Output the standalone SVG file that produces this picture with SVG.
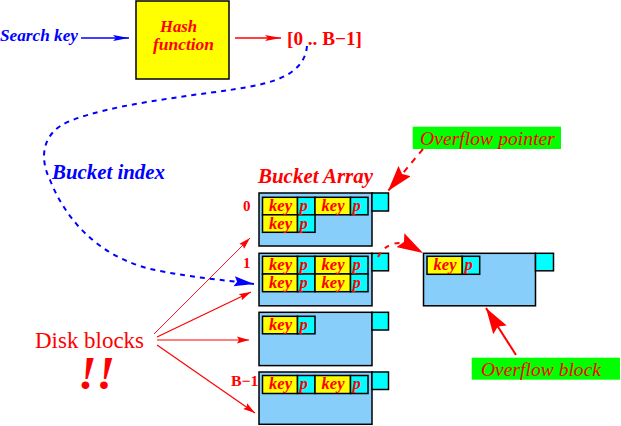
<svg xmlns="http://www.w3.org/2000/svg" width="621" height="426" viewBox="0 0 621 426">
<style>
.t{font-family:"Liberation Serif","Times New Roman",serif}
.bi{font-weight:bold;font-style:italic}
.red{fill:#ff0000}
.blue{fill:#0000ff}
.blk{fill:#87cefa;stroke:#000;stroke-width:1.5}
.sq{fill:#00ffff;stroke:#000;stroke-width:1.5}
.key{fill:#ffff00;stroke:#000;stroke-width:1.5}
.pc{fill:#00ffff;stroke:#000;stroke-width:1.5}
.kt{font-family:"Liberation Serif",serif;font-weight:bold;font-style:italic;font-size:16.5px;fill:#ff0000}
.lbl{fill:#00ff00}
</style>
<defs>
<marker id="ab" markerWidth="16" markerHeight="8" refX="16" refY="4" orient="auto" markerUnits="userSpaceOnUse"><path d="M0,1 L16,4 L0,7 L3,4 Z" fill="#0000ff"/></marker>
<marker id="ar" markerWidth="16" markerHeight="8" refX="16" refY="4" orient="auto" markerUnits="userSpaceOnUse"><path d="M0,1 L16,4 L0,7 L3,4 Z" fill="#ff0000"/></marker>
<marker id="ars" markerWidth="12" markerHeight="8" refX="12" refY="4" orient="auto" markerUnits="userSpaceOnUse"><path d="M0,0.5 L12,4 L0,7.5 L2,4 Z" fill="#ff0000"/></marker>
<marker id="arb" markerWidth="26" markerHeight="16" refX="26" refY="8" orient="auto" markerUnits="userSpaceOnUse"><path d="M0,0 L26,8 L0,16 L4,8 Z" fill="#ff0000"/></marker>
<marker id="abb" markerWidth="20" markerHeight="12" refX="20" refY="6" orient="auto" markerUnits="userSpaceOnUse"><path d="M0,1 L20,6 L0,11 L3,6 Z" fill="#0000ff"/></marker>
</defs>

<g id="search-key">
<text class="t bi blue" x="0" y="41" font-size="17" textLength="78" lengthAdjust="spacingAndGlyphs">Search key</text>
</g>
<g id="hash-function">
<rect x="136" y="1" width="93" height="78" fill="#ffff00" stroke="#000" stroke-width="1.5"/>
<text class="t bi red" x="160" y="31.5" font-size="16" textLength="37" lengthAdjust="spacingAndGlyphs">Hash</text>
<text class="t bi red" x="153" y="49.5" font-size="16" textLength="61" lengthAdjust="spacingAndGlyphs">function</text>
</g>
<g id="range">
<text class="t red" x="287" y="45" font-size="19" font-weight="bold" textLength="75" lengthAdjust="spacingAndGlyphs">[0 .. B−1]</text>
</g>
<g id="bucket-index-label">
<text class="t bi blue" x="52" y="179" font-size="20" textLength="113" lengthAdjust="spacingAndGlyphs">Bucket index</text>
</g>
<g id="bucket-array-label">
<text class="t bi red" x="258" y="183" font-size="20" textLength="115" lengthAdjust="spacingAndGlyphs">Bucket Array</text>
</g>
<g id="indices">
<text class="t red" x="243" y="211" font-size="15" font-weight="bold">0</text>
<text class="t red" x="243" y="268" font-size="15" font-weight="bold">1</text>
<text class="t red" x="231" y="385.5" font-size="15" font-weight="bold" textLength="27.5" lengthAdjust="spacingAndGlyphs">B−1</text>
</g>

<g id="bucket-0">
<rect class="blk" x="259" y="193" width="113" height="53"/>
<rect class="sq" x="372" y="193" width="16.5" height="18"/>
<rect class="key" x="262.5" y="197.3" width="35" height="17.5"/><rect class="pc" x="297.5" y="197.3" width="17.5" height="17.5"/>
<rect class="key" x="315" y="197.3" width="35.5" height="17.5"/><rect class="pc" x="350.5" y="197.3" width="17.5" height="17.5"/>
<rect class="key" x="262.5" y="214.8" width="35" height="17.5"/><rect class="pc" x="297.5" y="214.8" width="17.5" height="17.5"/>
<text class="kt" x="269" y="211" textLength="23" lengthAdjust="spacingAndGlyphs">key</text><text class="kt" x="299.5" y="211">p</text>
<text class="kt" x="321.5" y="211" textLength="23" lengthAdjust="spacingAndGlyphs">key</text><text class="kt" x="352.5" y="211">p</text>
<text class="kt" x="269" y="229" textLength="23" lengthAdjust="spacingAndGlyphs">key</text><text class="kt" x="299.5" y="229">p</text>
</g>
<g id="bucket-1">
<rect class="blk" x="259" y="253.3" width="113" height="52.5"/>
<rect class="sq" x="372" y="253.3" width="16.5" height="17.5"/>
<rect class="key" x="262.5" y="256.3" width="35" height="17.7"/><rect class="pc" x="297.5" y="256.3" width="17.5" height="17.7"/>
<rect class="key" x="315" y="256.3" width="35.5" height="17.7"/><rect class="pc" x="350.5" y="256.3" width="17.5" height="17.7"/>
<rect class="key" x="262.5" y="274" width="35" height="17.7"/><rect class="pc" x="297.5" y="274" width="17.5" height="17.7"/>
<rect class="key" x="315" y="274" width="35.5" height="17.7"/><rect class="pc" x="350.5" y="274" width="17.5" height="17.7"/>
<text class="kt" x="269" y="270" textLength="23" lengthAdjust="spacingAndGlyphs">key</text><text class="kt" x="299.5" y="270">p</text>
<text class="kt" x="321.5" y="270" textLength="23" lengthAdjust="spacingAndGlyphs">key</text><text class="kt" x="352.5" y="270">p</text>
<text class="kt" x="269" y="288" textLength="23" lengthAdjust="spacingAndGlyphs">key</text><text class="kt" x="299.5" y="288">p</text>
<text class="kt" x="321.5" y="288" textLength="23" lengthAdjust="spacingAndGlyphs">key</text><text class="kt" x="352.5" y="288">p</text>
</g>
<g id="bucket-2">
<rect class="blk" x="259" y="312.3" width="113" height="53.3"/>
<rect class="sq" x="372" y="312.3" width="16.5" height="17.7"/>
<rect class="key" x="262.5" y="316.3" width="35" height="17.5"/><rect class="pc" x="297.5" y="316.3" width="17.5" height="17.5"/>
<text class="kt" x="269" y="330" textLength="23" lengthAdjust="spacingAndGlyphs">key</text><text class="kt" x="299.5" y="330">p</text>
</g>
<g id="bucket-3">
<rect class="blk" x="259" y="372" width="113" height="52.3"/>
<rect class="sq" x="372" y="372" width="16.5" height="17.5"/>
<rect class="key" x="262.5" y="375.5" width="35" height="18"/><rect class="pc" x="297.5" y="375.5" width="17.5" height="18"/>
<rect class="key" x="315" y="375.5" width="35.5" height="18"/><rect class="pc" x="350.5" y="375.5" width="17.5" height="18"/>
<text class="kt" x="269" y="389" textLength="23" lengthAdjust="spacingAndGlyphs">key</text><text class="kt" x="299.5" y="389">p</text>
<text class="kt" x="321.5" y="389" textLength="23" lengthAdjust="spacingAndGlyphs">key</text><text class="kt" x="352.5" y="389">p</text>
</g>
<g id="overflow-block">
<rect class="blk" x="423.5" y="253.3" width="112" height="52.5"/>
<rect class="sq" x="535.5" y="253.3" width="18" height="17.5"/>
<rect class="key" x="427" y="256.3" width="35.3" height="18"/><rect class="pc" x="462.3" y="256.3" width="17.4" height="18"/>
<text class="kt" x="433.5" y="270" textLength="23" lengthAdjust="spacingAndGlyphs">key</text><text class="kt" x="464.5" y="270">p</text>
</g>
<g id="overflow-pointer-label">
<rect class="lbl" x="412.7" y="126.7" width="148.3" height="22.3"/>
<text class="t red" x="420" y="145" font-size="19" font-style="italic" textLength="135" lengthAdjust="spacingAndGlyphs">Overflow pointer</text>
</g>
<g id="overflow-block-label">
<rect class="lbl" x="471.7" y="357.7" width="148.3" height="22"/>
<text class="t red" x="481" y="375.5" font-size="19" font-style="italic" textLength="120" lengthAdjust="spacingAndGlyphs">Overflow block</text>
</g>
<g id="disk-blocks">
<text class="t red" x="35" y="347.5" font-size="23" textLength="109" lengthAdjust="spacingAndGlyphs">Disk blocks</text>
<text class="t red" x="78" y="389" font-size="46" font-style="italic" font-weight="bold" textLength="37" lengthAdjust="spacingAndGlyphs">!!</text>
</g>

<g id="connectors" fill="none">
<line x1="81" y1="38" x2="129" y2="38" stroke="#0000ff" stroke-width="1.3" marker-end="url(#ab)"/>
<line x1="235" y1="38" x2="281" y2="38" stroke="#ff0000" stroke-width="1.3" marker-end="url(#ar)"/>
<path d="M307,46 C304,80 260,85 230,90 C180,97 110,105 70,121 C40,133 40,160 50,180 C70,230 110,262 160,271 C195,278 225,280 254,284" stroke="#0000ff" stroke-width="2" stroke-dasharray="5,5" marker-end="url(#abb)"/>
<line x1="154" y1="334" x2="250" y2="238" stroke="#ff0000" stroke-width="0.9" marker-end="url(#ars)"/>
<line x1="157" y1="337" x2="251" y2="292" stroke="#ff0000" stroke-width="1.2" marker-end="url(#ars)"/>
<line x1="157" y1="340" x2="249" y2="340" stroke="#ff0000" stroke-width="1.2" marker-end="url(#ars)"/>
<line x1="157" y1="345" x2="255" y2="413" stroke="#ff0000" stroke-width="1.2" marker-end="url(#ars)"/>
<line x1="423" y1="149" x2="388" y2="191" stroke="#ff0000" stroke-width="2" stroke-dasharray="6,6" marker-end="url(#arb)"/>
<path d="M378,257 C384,246 392,243 400,243 C410,244 416,249 423,253" stroke="#ff0000" stroke-width="2" stroke-dasharray="5,6" marker-end="url(#arb)"/>
<line x1="516" y1="355" x2="486" y2="308" stroke="#ff0000" stroke-width="2" marker-end="url(#arb)"/>
</g>
</svg>
